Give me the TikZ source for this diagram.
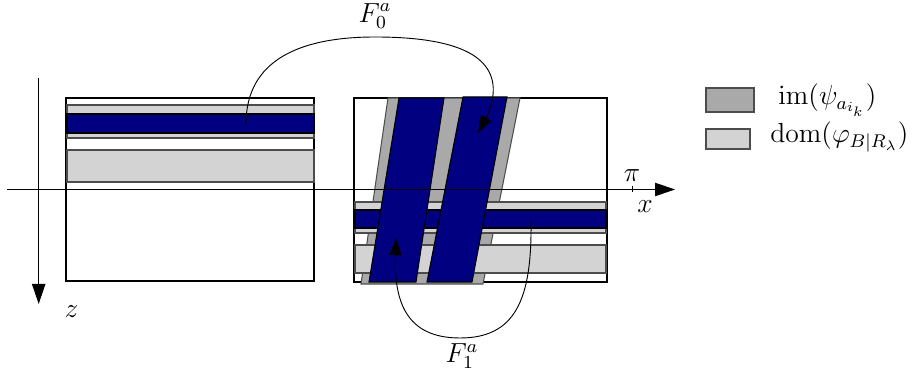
\documentclass[tikz,border=0pt]{standalone}
\usetikzlibrary{arrows.meta}
\definecolor{navyb}{HTML}{000080}
\definecolor{dgray}{HTML}{A9A9A9}
\definecolor{lgray}{HTML}{D3D3D3}
\begin{document}
\begin{tikzpicture}[x=0.4348pt,y=-0.4348pt,
  box/.style={draw=black,fill=white,line width=0.45pt},
  lstrip/.style={draw=black!70,fill=lgray,line width=0.45pt},
  dstrip/.style={draw=black!70,fill=dgray,line width=0.45pt},
  bstrip/.style={draw=black,fill=navyb,line width=0.45pt},
  axis/.style={line width=0.5pt,-{Triangle[length=8.7pt,width=5.8pt]}},
  fmap/.style={line width=0.4pt,-{Triangle[length=7.5pt,width=5.2pt]}},
  lbl/.style={inner sep=0pt,font=\large}]
\useasboundingbox (0,0) rectangle (914,376);
% left box
\draw[box] (66,98) rectangle (314,281);
\draw[lstrip] (67,105) rectangle (314,138);
\draw[bstrip] (67,114) rectangle (314,133);
\draw[lstrip] (67,150) rectangle (314,182);
% right box
\draw[box] (354,98) rectangle (607,282);
\draw[dstrip] (388,98) -- (520,98) -- (483,284) -- (361,284) -- cycle;
\draw[lstrip] (355,202) rectangle (606,233);
\draw[bstrip] (355,210) rectangle (606,228);
\draw[lstrip] (355,245) rectangle (606,273);
\draw[bstrip] (399,98) -- (444,98) -- (416,282) -- (369,282) -- cycle;
\draw[bstrip] (463,97) -- (507,97) -- (472,282) -- (427,282) -- cycle;
% axes
\coordinate (xa0) at (7,189.5);
\coordinate (xa1) at (675,189.5);
\coordinate (za0) at (38.7,78);
\coordinate (za1) at (38.7,304);
\draw[axis] (xa0) -- (xa1);
\draw[axis] (za0) -- (za1);
\coordinate (tk0) at (632,186.5);
\coordinate (tk1) at (632,192.5);
\draw[line width=0.4pt] (tk0) -- (tk1);
\node[lbl] (pi) at (632,176) {$\pi$};
\node[lbl] (xl) at (645,207) {$x$};
\node[lbl] (zl) at (71.5,312) {$z$};
% maps
\coordinate (f0s) at (246,124);
\coordinate (f0e) at (478,133);
\coordinate (f1s) at (531,222);
\coordinate (f1e) at (396,238);
\draw[fmap] (f0s) .. controls (246,60) and (300,37) .. (375,37)
  .. controls (455,37) and (497,55) .. (493,95)
  .. controls (491,110) and (484,122) .. (f0e);
\draw[fmap] (f1s) .. controls (532,300) and (515,338) .. (460,338)
  .. controls (405,338) and (394,300) .. (f1e);
\node[lbl] (F0) at (375,16) {$F_0^a$};
\node[lbl] (F1) at (462,356) {$F_1^a$};
% legend
\draw[dstrip] (706,88) rectangle (754,112);
\draw[lstrip] (706,129) rectangle (750,149);
\node[lbl,anchor=base west] (im) at (778,105) {$\mathrm{im}(\psi_{a_{i_k}})$};
\node[lbl,anchor=base west] (dom) at (770,143) {$\mathrm{dom}(\varphi_{B|R_\lambda})$};
\end{tikzpicture}
\end{document}
